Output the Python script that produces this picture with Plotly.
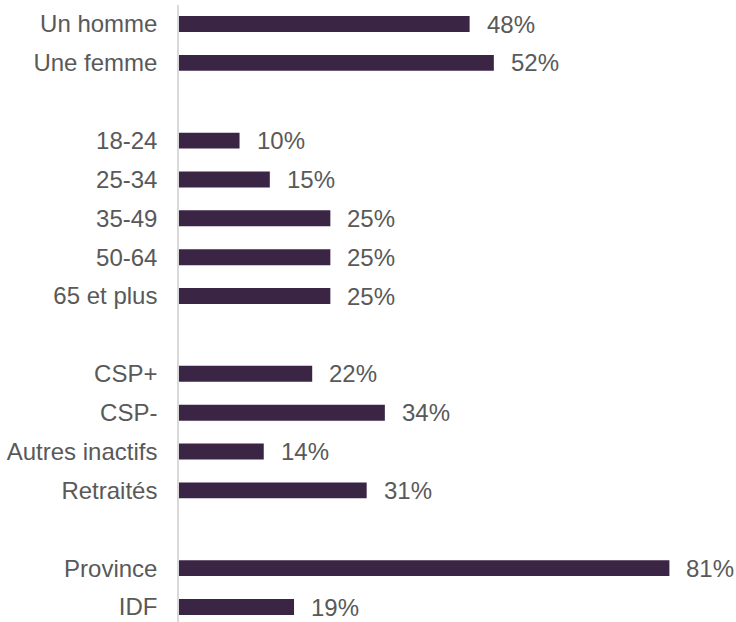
import plotly.graph_objects as go

# Profil des répondants (en %)
sexe_labels = ["Un homme", "Une femme"]
sexe_values = [48, 52]

age_labels = ["18-24", "25-34", "35-49", "50-64", "65 et plus"]
age_values = [10, 15, 25, 25, 25]

csp_labels = ["CSP+", "CSP-", "Autres inactifs", "Retraités"]
csp_values = [22, 34, 14, 31]

region_labels = ["Province", "IDF"]
region_values = [81, 19]

groups = [
    (sexe_labels, sexe_values),
    (age_labels, age_values),
    (csp_labels, csp_values),
    (region_labels, region_values),
]

# positions verticales avec une ligne vide entre les groupes
labels, values, pos = [], [], []
row = 0
for lab, val in groups:
    for l, v in zip(lab, val):
        labels.append(l)
        values.append(v)
        pos.append(row)
        row += 1
    row += 1
last_row = pos[-1]

BAR_COLOR = "#3B2545"
TEXT_COLOR = "#595959"
FONT = "Liberation Sans, Arial, sans-serif"

fig = go.Figure()
fig.add_trace(go.Bar(
    x=values,
    y=pos,
    orientation="h",
    width=0.41,
    marker=dict(color=BAR_COLOR, line=dict(width=0)),
    cliponaxis=False,
    hoverinfo="skip",
))

for v, p in zip(values, pos):
    fig.add_annotation(
        x=v, y=p, text=f"{v}%",
        xanchor="left", yanchor="middle",
        xshift=15, showarrow=False,
        font=dict(size=24, color=TEXT_COLOR, family=FONT),
    )

fig.update_layout(
    width=736,
    height=622,
    margin=dict(l=179, r=0, t=5, b=0),
    paper_bgcolor="white",
    plot_bgcolor="white",
    showlegend=False,
    font=dict(family=FONT, size=24, color=TEXT_COLOR),
    xaxis=dict(
        range=[0, 92],
        showgrid=False,
        zeroline=False,
        showticklabels=False,
        showline=False,
    ),
    yaxis=dict(
        range=[last_row + 0.386, -0.489],
        tickvals=pos,
        ticktext=labels,
        showgrid=False,
        zeroline=False,
        showline=True,
        linecolor="#D9D9D9",
        linewidth=1.5,
        ticks="",
        ticklabelstandoff=15,
        tickfont=dict(size=24, color=TEXT_COLOR, family=FONT),
    ),
)

# pas de marge de page autour de la figure, pas de barre d'outils
fig.write_html(
    "out.html",
    config={"displayModeBar": False},
    post_script="document.body.style.margin='0';document.body.style.overflow='hidden';",
)
